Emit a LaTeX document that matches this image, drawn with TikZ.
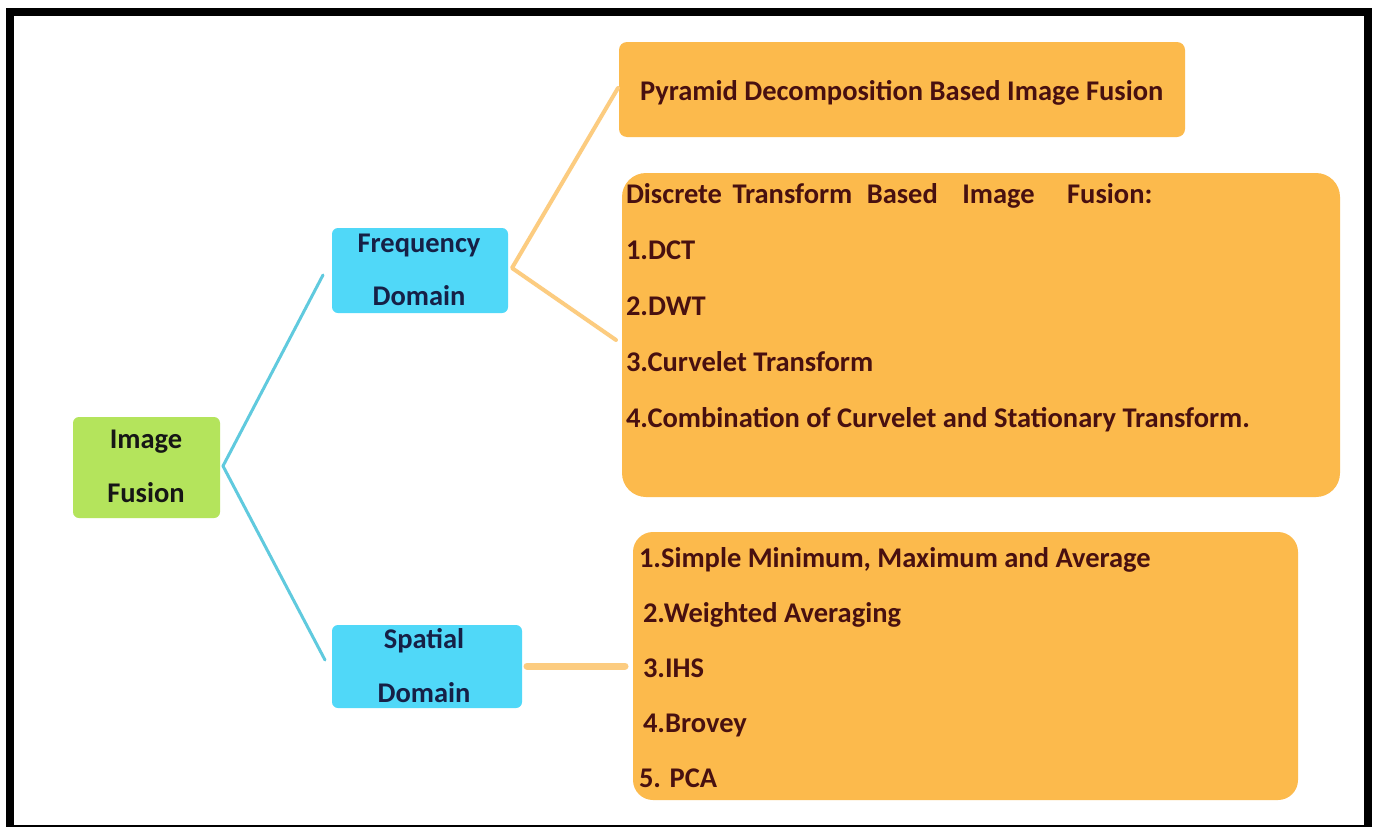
\documentclass[tikz,border=0pt]{standalone}
\usepackage{fontspec}
\setmainfont{Carlito}[BoldFont=Carlito Bold]
\definecolor{ifgreen}{RGB}{180,228,92}
\definecolor{ifblue}{RGB}{80,216,248}
\definecolor{iforange}{RGB}{252,186,76}
\definecolor{lnblue}{RGB}{96,202,222}
\definecolor{lnorange}{RGB}{252,204,128}
\definecolor{txmaroon}{RGB}{72,16,16}
\definecolor{txnavy}{RGB}{22,32,70}
\definecolor{txdark}{RGB}{22,22,22}
\tikzset{
  every node/.style={inner sep=0pt, outer sep=0pt},
  boxbase/.style={anchor=north west, draw=none},
  greenbox/.style={boxbase, fill=ifgreen, rounded corners=6pt},
  bluebox/.style={boxbase, fill=ifblue, rounded corners=6pt},
  orangebox/.style={boxbase, fill=iforange, rounded corners=#1},
  txt/.style={font=\fontsize{28.5}{34}\selectfont\bfseries},
  greentxt/.style={txt, text=txdark, anchor=base},
  bluetxt/.style={txt, text=txnavy, anchor=base},
  orangetxt/.style={txt, text=txmaroon, anchor=base west},
  blueline/.style={draw=lnblue, line width=3pt, line cap=round, line join=round},
  orangeline/.style={draw=lnorange, line width=#1, line cap=round, line join=round},
}
\begin{document}
\begin{tikzpicture}[x=1pt,y=-1pt]
\useasboundingbox (0,0) rectangle (1379,827);
\fill[white] (0,0) rectangle (1379,827);
% frame
\draw[black, line width=8pt] (10,827) -- (10,12) -- (1368,12) -- (1368,827);
\draw[black, line width=2pt] (10,826) -- (1368,826);

% boxes
\node[greenbox, minimum width=147pt, minimum height=101pt] (img) at (73,417) {};
\node[bluebox, minimum width=176pt, minimum height=85pt] (freq) at (332,228) {};
\node[bluebox, minimum width=190pt, minimum height=83pt] (spat) at (332,625) {};
\node[orangebox=8pt, minimum width=566pt, minimum height=95pt] (pyr) at (619,42) {};
\node[orangebox=24pt, minimum width=718pt, minimum height=324pt] (dis) at (622,173) {};
\node[orangebox=20pt, minimum width=665pt, minimum height=268pt] (spl) at (633,532) {};

% connectors
\coordinate (j1) at (223,466);
\coordinate (fin) at (323,275);
\coordinate (sin) at (325,660);
\draw[blueline] (fin) -- (j1) -- (sin);
\coordinate (j2) at (512,268);
\coordinate (pin) at (618,88);
\coordinate (din) at (616,340);
\draw[orangeline=4pt] (pin) -- (j2) -- (din);
\coordinate (s0) at (527,666);
\coordinate (s1) at (625,666);
\draw[orangeline=7pt] (s0) -- (s1);

% texts
\node[greentxt] (img1) at (146,448) {Image};
\node[greentxt] (img2) at (146,502) {Fusion};
\node[bluetxt] (fr1) at (419,252) {Frequency};
\node[bluetxt] (fr2) at (419,305) {Domain};
\node[bluetxt] (sp1) at (424,648) {Spatial};
\node[bluetxt] (sp2) at (424,702) {Domain};

\node[orangetxt] (py1) at (640,100) {Pyramid Decomposition Based Image Fusion};

\node[orangetxt] (d0) at (626,203) {Discrete\hspace{4pt} Transform\hspace{8pt} Based\hspace{18pt} Image\hspace{26pt} Fusion:};
\node[orangetxt] (d1) at (626,259) {1.DCT};
\node[orangetxt] (d2) at (626,315) {2.DWT};
\node[orangetxt] (d3) at (626,371) {3.Curvelet Transform};
\node[orangetxt] (d4) at (626,427) {4.Combination of Curvelet and Stationary Transform.};

\node[orangetxt] (l1) at (639,567) {1.Simple Minimum, Maximum and Average};
\node[orangetxt] (l2) at (643,622) {2.Weighted Averaging};
\node[orangetxt] (l3) at (643,677) {3.IHS};
\node[orangetxt] (l4) at (643,732) {4.Brovey};
\node[orangetxt] (l5) at (639,787) {5. PCA};
\end{tikzpicture}
\end{document}
